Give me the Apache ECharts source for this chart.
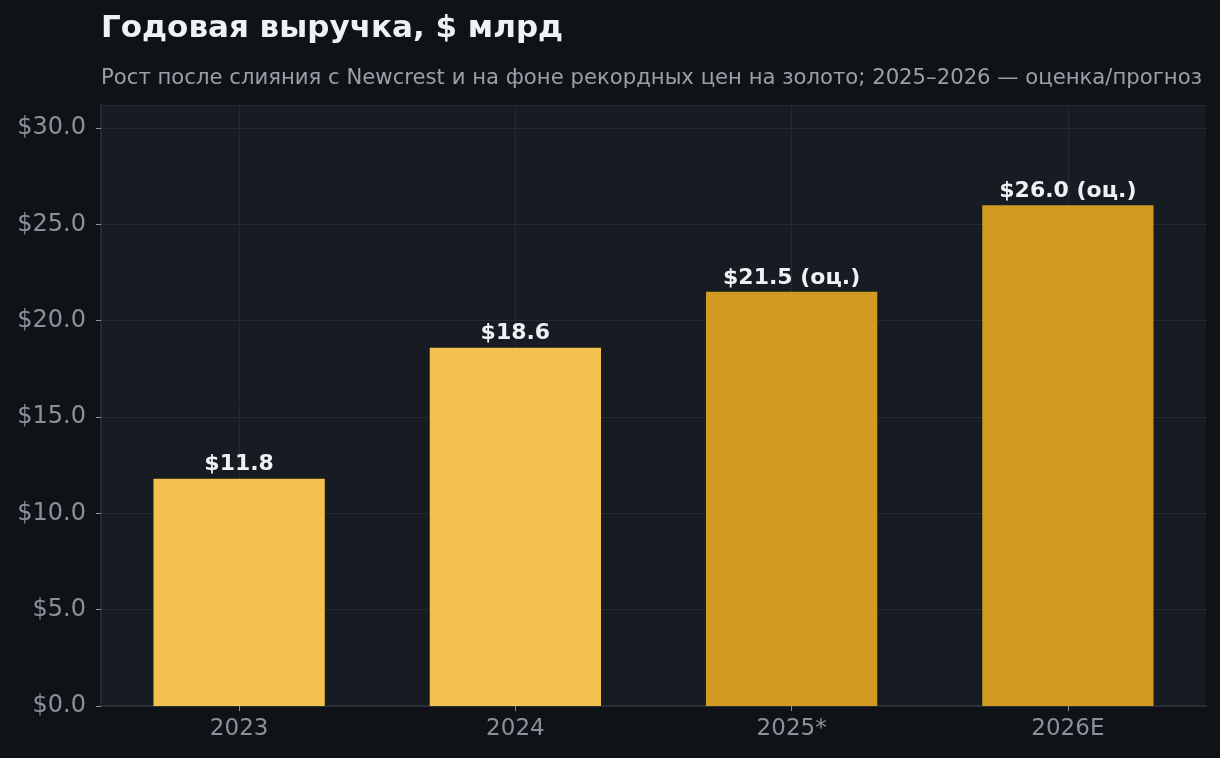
<!DOCTYPE html>
<html>
<head>
<meta charset="utf-8">
<script src="https://cdn.jsdelivr.net/npm/echarts@6/dist/echarts.min.js"></script>
<style>
  html, body { margin: 0; padding: 0; background: #0f1317; }
  #chart { width: 1220px; height: 758px; }
</style>
</head>
<body>
<div id="chart"></div>
<script>
var years = ['2023', '2024', '2025*', '2026E'];
var revenue = [11.8, 18.6, 21.5, 26.0];
var isEstimate = [false, false, true, true];
var yTicks = { min: 0, max: 31.2, interval: 5 };

var barColor = '#f2c14e';
var estColor = '#d19a22';
var font = 'DejaVu Sans';

var chart = echarts.init(document.getElementById('chart'));

chart.setOption({
    backgroundColor: '#0f1317',
    textStyle: { fontFamily: font },
    title: [
        {
            text: 'Годовая выручка, $ млрд',
            left: 101,
            top: 13,
            padding: 0,
            textStyle: { color: '#eef1f5', fontSize: 31, fontWeight: 'bold', fontFamily: font }
        },
        {
            text: 'Рост после слияния с Newcrest и на фоне рекордных цен на золото; 2025–2026 — оценка/прогноз',
            left: 101,
            top: 68,
            padding: 0,
            textStyle: { color: '#9aa0a8', fontSize: 21.2, fontWeight: 'normal', fontFamily: font }
        }
    ],
    grid: {
        left: 101,
        right: 14,
        top: 105,
        bottom: 52,
        show: true,
        backgroundColor: '#171b22',
        borderWidth: 0
    },
    xAxis: {
        type: 'category',
        data: years,
        axisLine: { show: true, lineStyle: { color: '#2e333b', width: 1.5 } },
        axisTick: { show: true, alignWithLabel: true, length: 5, lineStyle: { color: '#8b919a' } },
        axisLabel: { color: '#8b919a', fontSize: 23, margin: 12, fontFamily: font },
        splitLine: { show: false }
    },
    yAxis: {
        type: 'value',
        min: yTicks.min,
        max: yTicks.max,
        interval: yTicks.interval,
        axisLine: { show: true, lineStyle: { color: '#2e333b', width: 1.5 } },
        axisTick: { show: true, length: 5, lineStyle: { color: '#8b919a' } },
        axisLabel: {
            color: '#8b919a',
            fontSize: 24,
            margin: 15,
            fontFamily: font,
            showMaxLabel: false,
            formatter: function(v) { return '$' + v.toFixed(1); }
        },
        splitLine: { lineStyle: { color: '#242933', width: 1 } }
    },
    series: [
        {
            type: 'bar',
            z: 2,
            barWidth: '62%',
            data: revenue.map(function(v, i) {
                return { value: v, itemStyle: { color: isEstimate[i] ? estColor : barColor } };
            }),
            label: {
                show: true,
                position: 'top',
                distance: 3,
                color: '#eef1f5',
                fontSize: 22,
                fontWeight: 'bold',
                fontFamily: font,
                formatter: function(p) {
                    return '$' + p.value.toFixed(1) + (isEstimate[p.dataIndex] ? ' (оц.)' : '');
                }
            },
            // vertical grid lines at category centres
            markLine: {
                silent: true,
                z: 1,
                symbol: 'none',
                label: { show: false },
                lineStyle: { color: '#242933', width: 1, type: 'solid' },
                data: years.map(function(y) { return { xAxis: y }; })
            }
        }
    ]
});
</script>
</body>
</html>
